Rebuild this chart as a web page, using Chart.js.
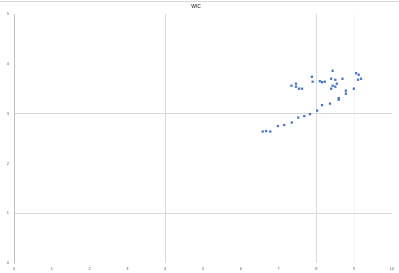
<!DOCTYPE html>
<html>
<head>
<meta charset="utf-8">
<script src="https://cdn.jsdelivr.net/npm/chart.js@4"></script>
<style>
  body { margin: 0; background: #fff; }
</style>
</head>
<body>
<canvas id="chart" width="399" height="273"></canvas>
<script>
// valores
const xVals = [8.43, 9.05, 9.12, 7.88, 7.90, 8.09, 8.15, 8.22, 8.39, 8.50, 8.69, 9.18, 9.10,
  7.46, 7.34, 7.46, 7.54, 7.62, 8.54, 8.43, 8.50, 8.39, 8.78, 8.99, 8.78, 8.59, 8.59,
  8.36, 8.15, 8.02, 7.83, 7.68, 7.52, 7.35, 7.15, 6.98, 6.78, 6.67, 6.58];
const yVals = [3.86, 3.81, 3.78, 3.74, 3.64, 3.65, 3.63, 3.64, 3.70, 3.68, 3.70, 3.70, 3.68,
  3.60, 3.56, 3.54, 3.50, 3.50, 3.60, 3.56, 3.54, 3.50, 3.46, 3.50, 3.40, 3.31, 3.28,
  3.20, 3.17, 3.06, 2.99, 2.95, 2.92, 2.82, 2.77, 2.75, 2.64, 2.65, 2.64];
const xGrid = [4, 8];
const yGrid = [1, 3];
const titulo = "W/C";

const puntos = xVals.map((x, i) => ({ x: x, y: yVals[i] }));

const frame = {
  id: "frame",
  beforeDraw(chart) {
    const c = chart.ctx;
    c.save();
    c.fillStyle = "#fff";
    c.fillRect(0, 0, chart.width, chart.height);
    c.strokeStyle = "#d9d9d9";
    c.lineWidth = 1;
    c.beginPath();
    c.moveTo(0, 1.5);
    c.lineTo(chart.width, 1.5);
    c.stroke();
    c.restore();
  },
};

let ctx = document.getElementById("chart").getContext("2d");
let graf = new Chart(ctx, {
  type: "scatter",
  data: {
    datasets: [
      {
        label: titulo,
        data: puntos,
        pointStyle: "rect",
        pointRadius: 1.6,
        borderWidth: 0,
        backgroundColor: "#4472C4",
        borderColor: "#4472C4",
      },
    ],
  },
  options: {
    responsive: false,
    devicePixelRatio: 1,
    animation: false,
    layout: { padding: { left: 0, right: 7, top: 0, bottom: 0 } },
    plugins: {
      legend: { display: false },
      tooltip: { enabled: false },
      title: {
        display: true,
        text: titulo,
        color: "#595959",
        font: { size: 5, weight: "bold", family: "Liberation Sans" },
        padding: { top: 4, bottom: 4 },
      },
    },
    scales: {
      x: {
        type: "linear",
        min: 0,
        max: 10,
        afterFit(scale) { scale.height = 10; },
        ticks: {
          stepSize: 1,
          color: "#595959",
          padding: 3,
          font: { size: 4, family: "Liberation Sans" },
          maxRotation: 0,
        },
        grid: {
          drawTicks: false,
          color: (c) => (xGrid.includes(c.tick.value) ? "#d9d9d9" : c.tick.value === 9 ? "#f4f4f4" : "rgba(0,0,0,0)"),
        },
        border: { display: false },
      },
      y: {
        type: "linear",
        min: 0,
        max: 5,
        afterFit(scale) { scale.width = 14; },
        ticks: {
          stepSize: 1,
          color: "#595959",
          padding: 5,
          font: { size: 4, family: "Liberation Sans" },
        },
        grid: {
          drawTicks: false,
          color: (c) => (yGrid.includes(c.tick.value) ? "#d9d9d9" : "rgba(0,0,0,0)"),
        },
        border: { display: true, color: "#bfbfbf", width: 1 },
      },
    },
  },
  plugins: [frame],
});
</script>
</body>
</html>
